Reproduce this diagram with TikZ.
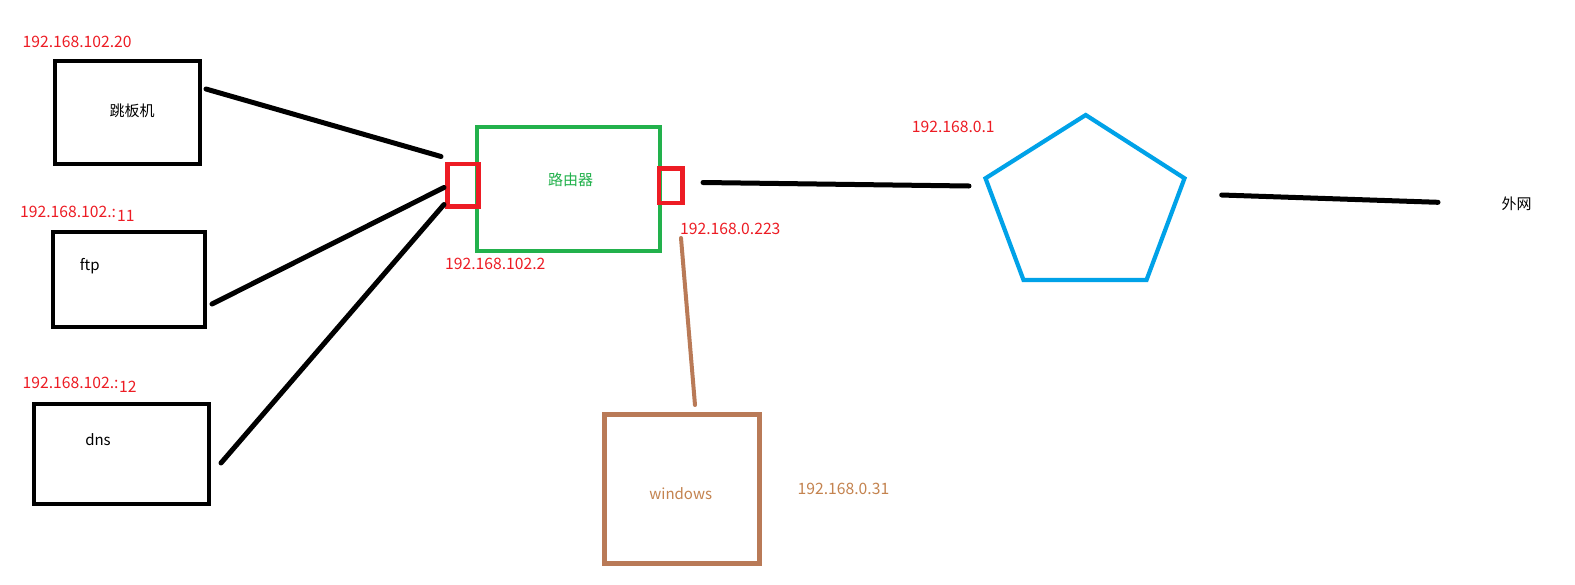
\documentclass[tikz,border=0pt]{standalone}
\usepackage{fontspec}
\setmainfont{Noto Sans CJK SC}
\definecolor{pred}{HTML}{ED1C24}
\definecolor{pgreen}{HTML}{22B14C}
\definecolor{pblue}{HTML}{00A2E8}
\definecolor{pbrown}{HTML}{B97A57}
\definecolor{ptext}{HTML}{C4834F}
\tikzset{
  hostbox/.style={draw=black, line width=4.6pt, inner sep=0pt, outer sep=0pt},
  wire/.style={draw=black, line width=5pt, line cap=round},
  iplabel/.style={text=pred, anchor=west, inner sep=0pt, font=\fontsize{15.7}{18}\selectfont},
  txt/.style={inner sep=0pt, font=\fontsize{15}{18}\selectfont},
}
\begin{document}
\begin{tikzpicture}[x=1pt,y=-1pt]
\useasboundingbox[fill=white] (0,0) rectangle (1575,584);
% hosts
\node[hostbox, minimum width=145pt, minimum height=103pt] (jump) at (127.5,112.5) {};
\node[hostbox, minimum width=152pt, minimum height=95pt] (ftp) at (129,279.5) {};
\node[hostbox, minimum width=175pt, minimum height=100pt] (dns) at (121.5,454) {};
\node[txt] (jumpt) at (132,110.5) {跳板机};
\node[txt] (ftpt) at (89.7,266.5) {ftp};
\node[txt] (dnst) at (98,440) {dns};
\node[iplabel] (ip20) at (22.5,41.7) {192.168.102.20};
\node[iplabel] (ip11a) at (20,211.7) {192.168.102.:};
\node[iplabel] (ip11b) at (117,215.7) {11};
\node[iplabel] (ip12a) at (22.5,383.3) {192.168.102.:};
\node[iplabel] (ip12b) at (119,386.5) {12};
% router
\node[draw=pgreen, line width=4.7pt, inner sep=0pt, minimum width=183pt, minimum height=124pt] (router) at (568.5,189) {};
\node[txt, text=pgreen] (routert) at (570.7,180) {路由器};
\node[draw=pred, line width=4.7pt, inner sep=0pt, minimum width=31pt, minimum height=42.5pt] (portl) at (463,185.25) {};
\node[draw=pred, line width=4.7pt, inner sep=0pt, minimum width=23.5pt, minimum height=34.5pt] (portr) at (670.75,185.75) {};
\node[iplabel] (ip2) at (445,264.3) {192.168.102.2};
\node[iplabel] (ip223) at (680,229) {192.168.0.223};
% wires to router
\coordinate (j1) at (206,89);
\coordinate (j2) at (441,156.5);
\coordinate (f1) at (212,304);
\coordinate (f2) at (444,187.5);
\coordinate (d1) at (221,463);
\coordinate (d2) at (444,204.5);
\draw[wire] (j1) -- (j2);
\draw[wire] (f1) -- (f2);
\draw[wire] (d1) -- (d2);
% pentagon
\coordinate (pt) at (1085.7,115);
\coordinate (pr) at (1184.5,178.3);
\coordinate (pbr) at (1146.5,280);
\coordinate (pbl) at (1023.5,280);
\coordinate (pl) at (985.5,178.3);
\draw[pblue, line width=4.2pt, line join=miter] (pt) -- (pr) -- (pbr) -- (pbl) -- (pl) -- cycle;
\node[iplabel] (ip1) at (911.7,126.7) {192.168.0.1};
\coordinate (r1) at (703,182.5);
\coordinate (r2) at (969,186);
\draw[wire] (r1) -- (r2);
\coordinate (w1) at (1221.7,195);
\coordinate (w2) at (1438,202.3);
\draw[wire] (w1) -- (w2);
\node[txt] (wan) at (1516.7,203.3) {外网};
% windows
\coordinate (b1) at (681,238);
\coordinate (b2) at (695,405);
\draw[pbrown, line width=4pt, line cap=round] (b1) -- (b2);
\node[draw=pbrown, line width=4.4pt, inner sep=0pt, minimum width=155pt, minimum height=149pt] (win) at (682,489) {};
\node[txt, text=ptext] (wint) at (680.7,494) {windows};
\node[iplabel, text=ptext] (ip31) at (797.5,489) {192.168.0.31};
\end{tikzpicture}
\end{document}
